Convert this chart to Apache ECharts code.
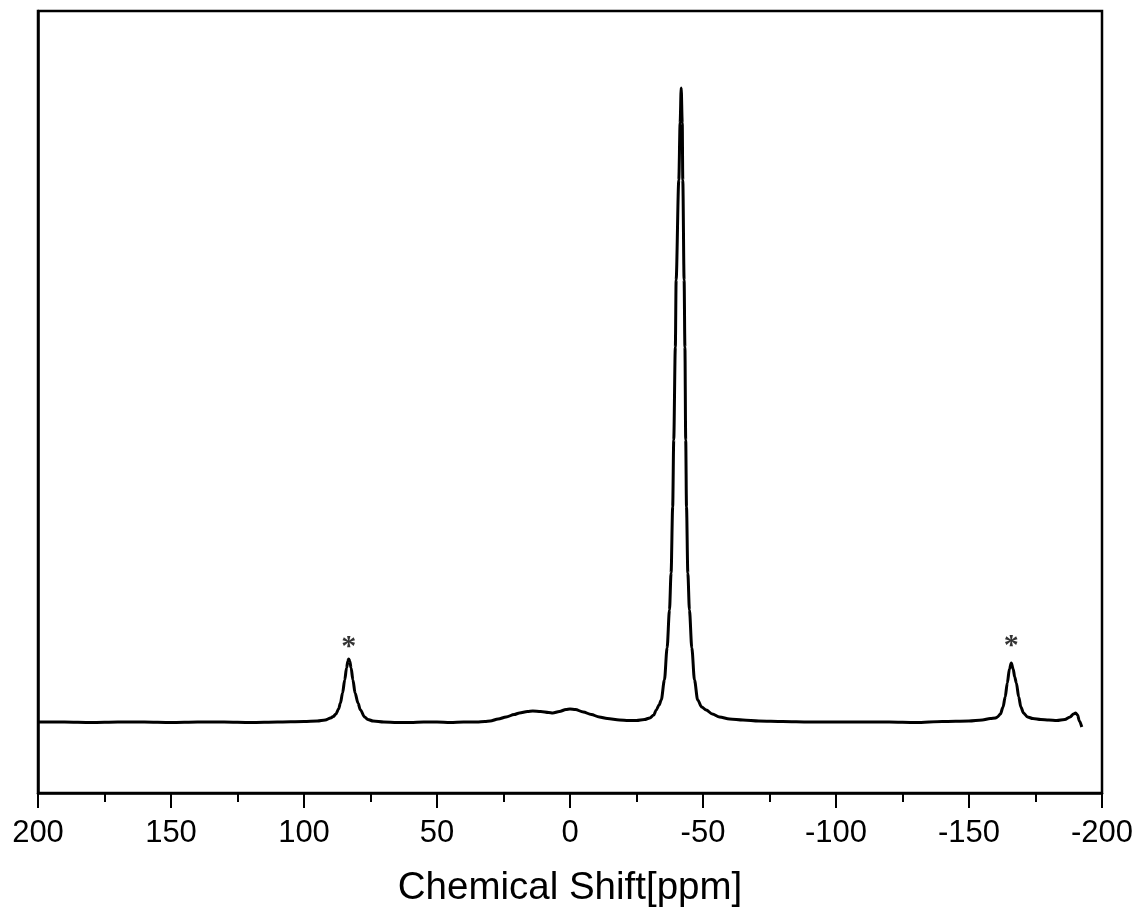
<!DOCTYPE html>
<html>
<head>
<meta charset="utf-8">
<script src="https://cdn.jsdelivr.net/npm/echarts@6/dist/echarts.min.js"></script>
<style>
html,body{margin:0;padding:0;background:#fff;}
#chart{width:1140px;height:918px;}
</style>
</head>
<body>
<div id="chart"></div>
<script>
// Chemical shift (ppm) sample positions
const shiftPpm = [
  200, 190, 180, 170, 160, 150, 140, 130, 120, 110, 100, 95, 92, 90, 89, 88, 87, 86.3, 85.5, 84.7, 84, 83.5, 83.2,
  82.8, 82.3, 81.6, 80.8, 79.7, 78.8, 77.2, 76, 74, 70, 65, 60, 55, 50, 45, 40, 35, 32, 30, 27, 24, 21, 19, 16, 14,
  11, 8, 6.5, 4, 1.5, 0, -2, -5, -8, -11, -14, -18.6, -22, -25, -28, -30, -31.5, -32.4, -33.5, -34.3, -35.5, -36.5,
  -37.4, -38, -38.6, -39, -39.6, -39.9, -40.9, -41.4, -41.8, -42.2, -42.4, -42.9, -43.2, -43.5, -43.8, -44.3, -44.9,
  -45.8, -46.8, -48, -49.5, -51.2, -53.5, -56.2, -60, -65, -71, -80, -90, -100, -110, -120, -130, -140, -150, -155,
  -158, -160, -160.7, -161.8, -162.8, -163.6, -164.4, -165.2, -165.9, -166.6, -167.2, -167.8, -168.7, -169.5, -170.5,
  -172, -174, -177, -180, -183, -186, -188, -189.3, -190.1, -190.8, -191.5, -192.4
];
// Intensity (arbitrary units) at each position
const intensity = [
  71, 71, 70.5, 71, 71, 70.5, 71, 71, 70.5, 71, 71.5, 72, 73, 75, 76.5, 79, 84, 90, 100, 113, 125, 132, 134,
  132, 125, 113, 100, 90, 83, 76, 73.5, 72, 71, 70.5, 70.5, 71, 71, 70.5, 71, 71, 71.5, 72, 74, 76, 78.5, 80, 81.5, 82,
  81.5, 80.5, 80, 81.5, 83.5, 84, 83.5, 81, 78.5, 76, 74.5, 73, 72.5, 72.5, 73.5, 75, 78, 83, 88, 93, 113, 145,
  183, 220, 286, 353, 446, 513, 613, 670, 705, 670, 613, 513, 446, 353, 286, 220, 183,
  145, 113, 93, 86, 83, 79, 76, 74, 73, 72, 71.5, 71, 71, 71, 71, 70.5, 71.5, 72, 73,
  74.5, 75, 76, 79, 86, 96, 110, 124, 130, 124, 116, 110, 96, 86, 80,
  76, 74.5, 73.5, 73, 72.5, 73.5, 76, 79, 80, 78, 72, 66
];
// Spinning sideband markers
const sidebandPpm = [83.2, -165.9];
const sidebandLevel = [146, 147];
const sidebandLabel = ['*', '*'];
const xTickMin = -200, xTickMax = 200, xTickStep = 50;

const lineData = shiftPpm.map((x, i) => [x, intensity[i]]);
const starData = sidebandPpm.map((x, i) => ({value: [x, sidebandLevel[i]], label: {formatter: sidebandLabel[i]}}));

const chart = echarts.init(document.getElementById('chart'), null, {renderer: 'canvas'});
chart.setOption({
  animation: false,
  backgroundColor: '#fff',
  grid: {left: 38, right: 38, top: 11, bottom: 125, show: true, borderColor: '#000', borderWidth: 2.5, backgroundColor: 'transparent'},
  xAxis: {
    type: 'value', min: xTickMin, max: xTickMax, interval: xTickStep, inverse: true,
    name: 'Chemical Shift[ppm]', nameLocation: 'middle', nameGap: 76,
    nameTextStyle: {fontFamily: 'Liberation Sans', fontSize: 38.5, color: '#000'},
    axisLine: {show: true, onZero: false, lineStyle: {color: '#000', width: 2.5}},
    axisTick: {show: true, inside: false, length: 15, lineStyle: {color: '#000', width: 2}},
    minorTick: {show: true, splitNumber: 2, length: 9, lineStyle: {color: '#000', width: 2}},
    axisLabel: {fontFamily: 'Liberation Sans', fontSize: 31, color: '#000', margin: 25},
    splitLine: {show: false}
  },
  yAxis: {
    type: 'value', min: 0, max: 782,
    axisLine: {show: true, onZero: false, lineStyle: {color: '#000', width: 2.5}},
    axisTick: {show: false}, axisLabel: {show: false}, splitLine: {show: false}
  },
  series: [
    {
      type: 'line', data: lineData, showSymbol: false, symbol: 'none',
      smooth: 0.3, smoothMonotone: 'x',
      lineStyle: {color: '#000', width: 3}, clip: true
    },
    {
      type: 'scatter', data: starData, symbolSize: 0, silent: true,
      label: {show: true, position: 'inside', fontFamily: 'Liberation Serif', fontWeight: 'bold', fontSize: 30, color: '#000'}
    }
  ]
});
</script>
</body>
</html>
